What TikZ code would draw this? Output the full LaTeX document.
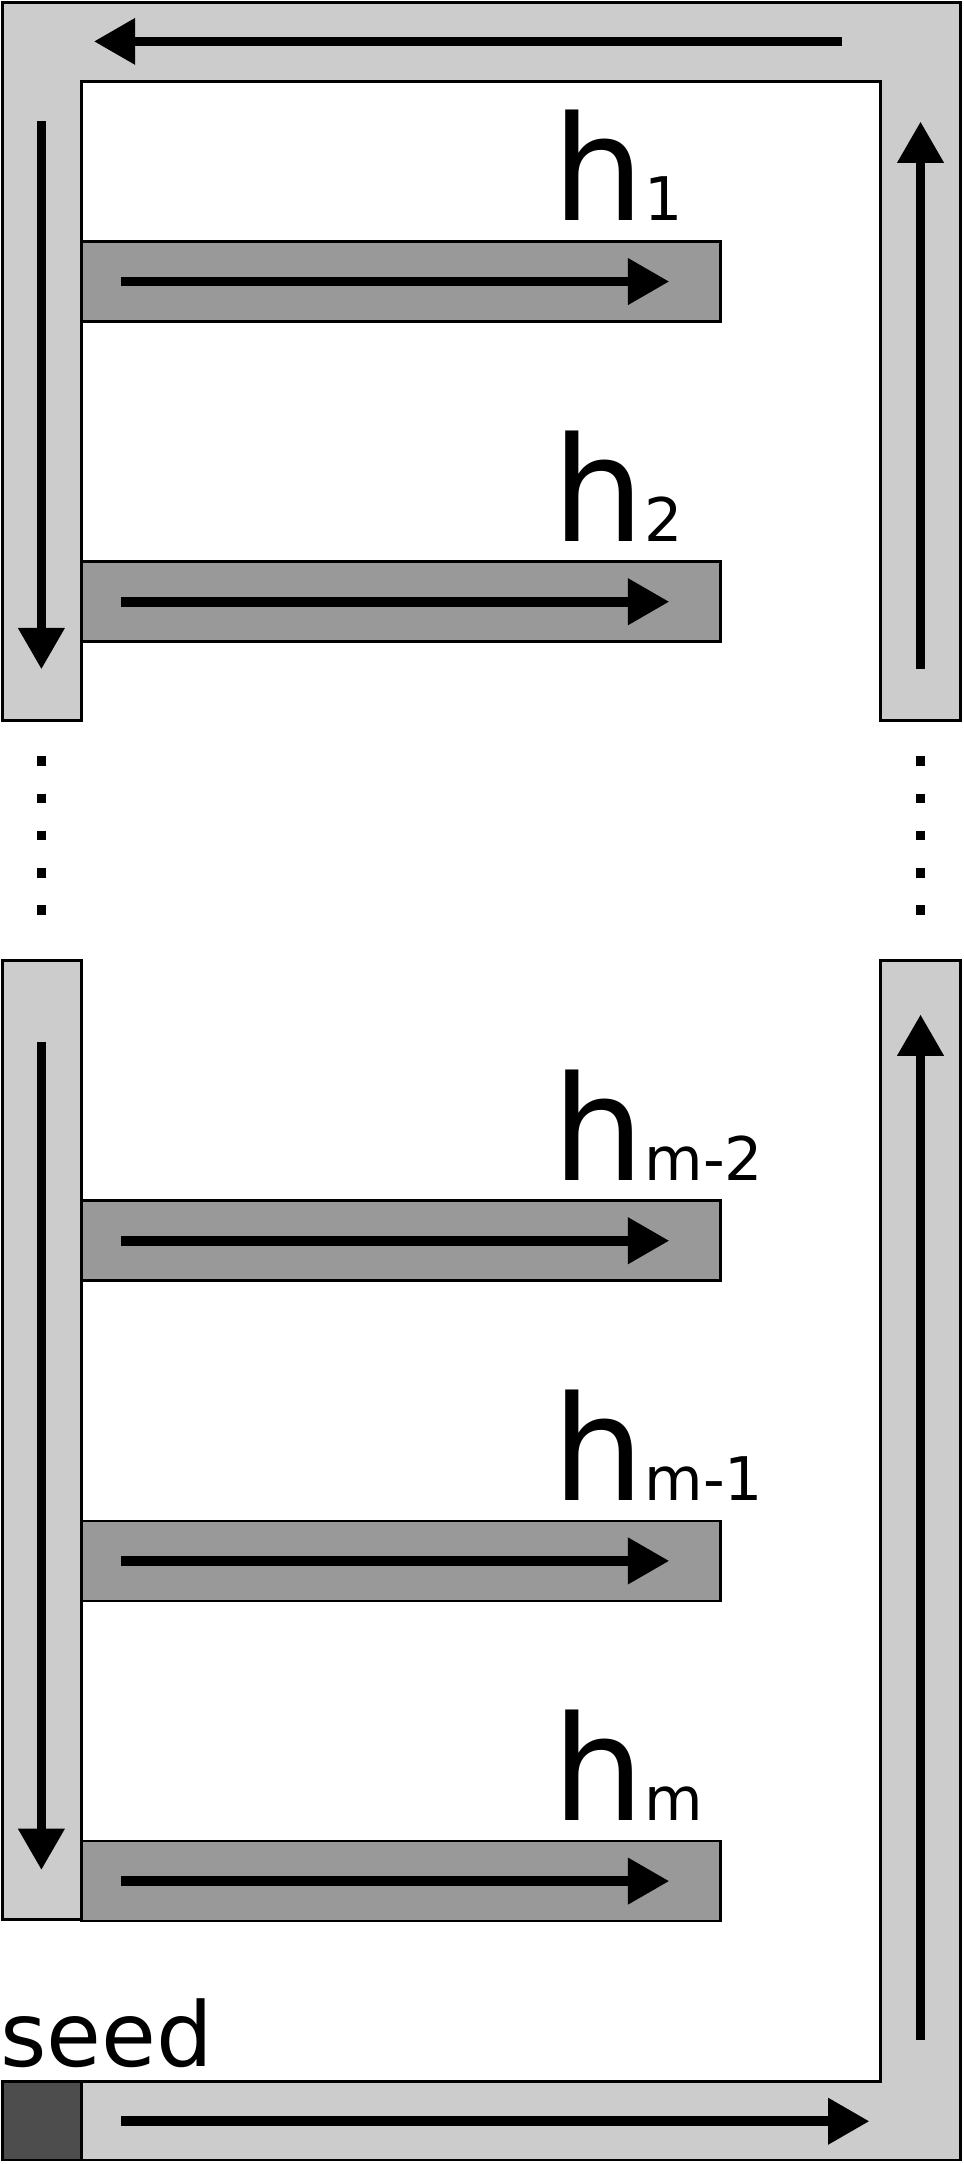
\documentclass[tikz,border=0pt]{standalone}
\usepackage{fontspec}
\setmainfont{DejaVu Sans}
\usetikzlibrary{arrows.meta}
\definecolor{lg}{HTML}{CCCCCC}
\definecolor{mg}{HTML}{999999}
\definecolor{dg}{HTML}{4D4D4D}
\tikzset{
 box/.style={draw=black,line width=2.8pt,line join=miter},
 flow/.style={line width=10pt,-{Triangle[length=1.5cm,width=1.6cm]}},
 lab/.style={anchor=base west,inner sep=0pt},
 dotline/.style={line width=10pt,dash pattern=on 0.35cm off 1.0cm}
}
\newcommand{\hlab}[1]{{\fontsize{150}{150}\selectfont h}{\fontsize{62}{62}\selectfont #1}}
\begin{document}
\begin{tikzpicture}[x=0.05cm,y=-0.05cm]
\useasboundingbox (0,0) rectangle (698,1568);
% top U
\draw[box,fill=lg] (2,2)--(696,2)--(696,522)--(638,522)--(638,59)--(59,59)--(59,522)--(2,522)--cycle;
% bottom
\draw[box,fill=lg] (2,696) rectangle (59,1391);
\draw[box,fill=lg] (2,1508)--(638,1508)--(638,696)--(696,696)--(696,1565)--(2,1565)--cycle;
\draw[box,fill=dg] (2,1508) rectangle (59,1565);
% bars
\foreach \y/\t [count=\i] in {175/1,407/2,870/{m-2},1102/{m-1},1334/m}{
  \draw[box,fill=mg] (59,\y) rectangle (522,\y+58);
  \draw[flow] (88,\y+29) -- (485,\y+29);
  \node[lab] (h\i) at (400,\y-15) {\hlab{\t}};
}
% arrows
\draw[flow] (610,30) -- (68,30);
\draw[flow] (30,88) -- (30,485);
\draw[flow] (667,485) -- (667,88);
\draw[flow] (30,755) -- (30,1355);
\draw[flow] (667,1478) -- (667,735);
\draw[flow] (88,1537) -- (630,1537);
% dots
\draw[dotline] (30,548) -- (30,670);
\draw[dotline] (667,548) -- (667,670);
\node[lab] (seed) at (0,1497) {\fontsize{92}{92}\selectfont seed};
\end{tikzpicture}
\end{document}
